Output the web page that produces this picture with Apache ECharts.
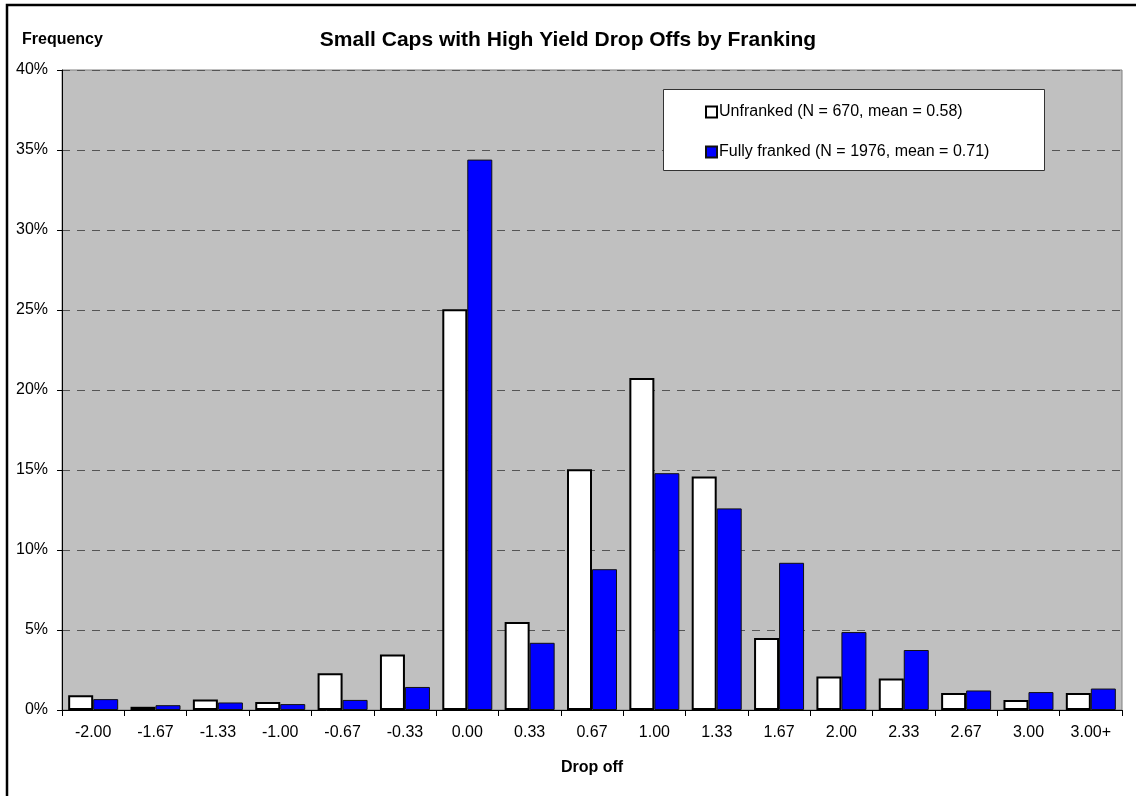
<!DOCTYPE html>
<html>
<head>
<meta charset="utf-8">
<script src="https://cdn.jsdelivr.net/npm/echarts@6/dist/echarts.min.js"></script>
<style>html,body{margin:0;padding:0;background:#fff}#c{width:1136px;height:796px}</style>
</head>
<body>
<div id="c"></div>
<script>
const categories = ['-2.00','-1.67','-1.33','-1.00','-0.67','-0.33','0.00','0.33','0.67','1.00','1.33','1.67','2.00','2.33','2.67','3.00','3.00+'];
const unfranked = [0.92,0.2,0.65,0.5,2.29,3.47,25.05,5.5,15.05,20.75,14.6,4.5,2.1,1.97,1.07,0.63,1.07];
const fullyFranked = [0.68,0.3,0.47,0.37,0.63,1.44,34.4,4.2,8.8,14.8,12.6,9.2,4.87,3.75,1.22,1.12,1.34];
const seriesNames = ['Unfranked (N = 670, mean = 0.58)','Fully franked (N = 1976, mean = 0.71)'];
const yTicks = [0,5,10,15,20,25,30,35,40];

const chart = echarts.init(document.getElementById('c'), null, {renderer:'canvas'});
const font = 'Liberation Sans, Arial, sans-serif';
chart.setOption({
  animation:false,
  backgroundColor:'#fff',
  textStyle:{fontFamily:font,color:'#000'},
  title:{text:'Small Caps with High Yield Drop Offs by Franking',left:'center',top:25,
    textStyle:{fontFamily:font,fontSize:21,fontWeight:'bold',color:'#000'}},
  graphic:[
    {type:'rect',shape:{x:7,y:5,width:1300,height:1000},style:{fill:'none',stroke:'#000',lineWidth:2.5},z:100},
    {type:'text',left:22,top:32,style:{text:'Frequency',font:'bold 16px '+font,fill:'#000'}},
    {type:'rect',shape:{x:663.5,y:89.5,width:381,height:81},style:{fill:'#fff',stroke:'#333',lineWidth:1},z:10}
  ],
  legend:{orient:'vertical',left:700,top:99,itemGap:24,itemWidth:11,itemHeight:11,z:20,icon:'rect',
    textStyle:{fontFamily:font,fontSize:16,color:'#000',padding:[0,0,0,-3]},
    data:seriesNames},
  grid:{left:62,right:14,top:70,bottom:86,show:true,backgroundColor:'#c0c0c0',borderColor:'#808080',borderWidth:1},
  xAxis:{type:'category',data:categories,name:'Drop off',nameLocation:'middle',nameGap:50,
    nameTextStyle:{fontFamily:font,fontSize:16,fontWeight:'bold',color:'#000'},
    axisLine:{lineStyle:{color:'#000',width:1}},
    axisTick:{show:true,alignWithLabel:false,length:6,lineStyle:{color:'#000'}},
    axisLabel:{fontFamily:font,fontSize:16,color:'#000',margin:15}},
  yAxis:{type:'value',min:0,max:40,interval:5,
    axisLine:{show:true,lineStyle:{color:'#000'}},
    axisTick:{show:true,length:5,lineStyle:{color:'#000'}},
    axisLabel:{fontFamily:font,fontSize:16,color:'#000',margin:14,formatter:v=>v+'%'},
    splitLine:{show:true,lineStyle:{color:'#555',type:[8,7],width:1}}},
  series:[
    {name:seriesNames[0],type:'bar',data:unfranked,barWidth:25,barGap:'0%',
      itemStyle:{color:'#fff',borderColor:'#000',borderWidth:2}},
    {name:seriesNames[1],type:'bar',data:fullyFranked,barWidth:25,
      itemStyle:{color:'#0000ff',borderColor:'#111',borderWidth:1}}
  ]
});
</script>
</body>
</html>
